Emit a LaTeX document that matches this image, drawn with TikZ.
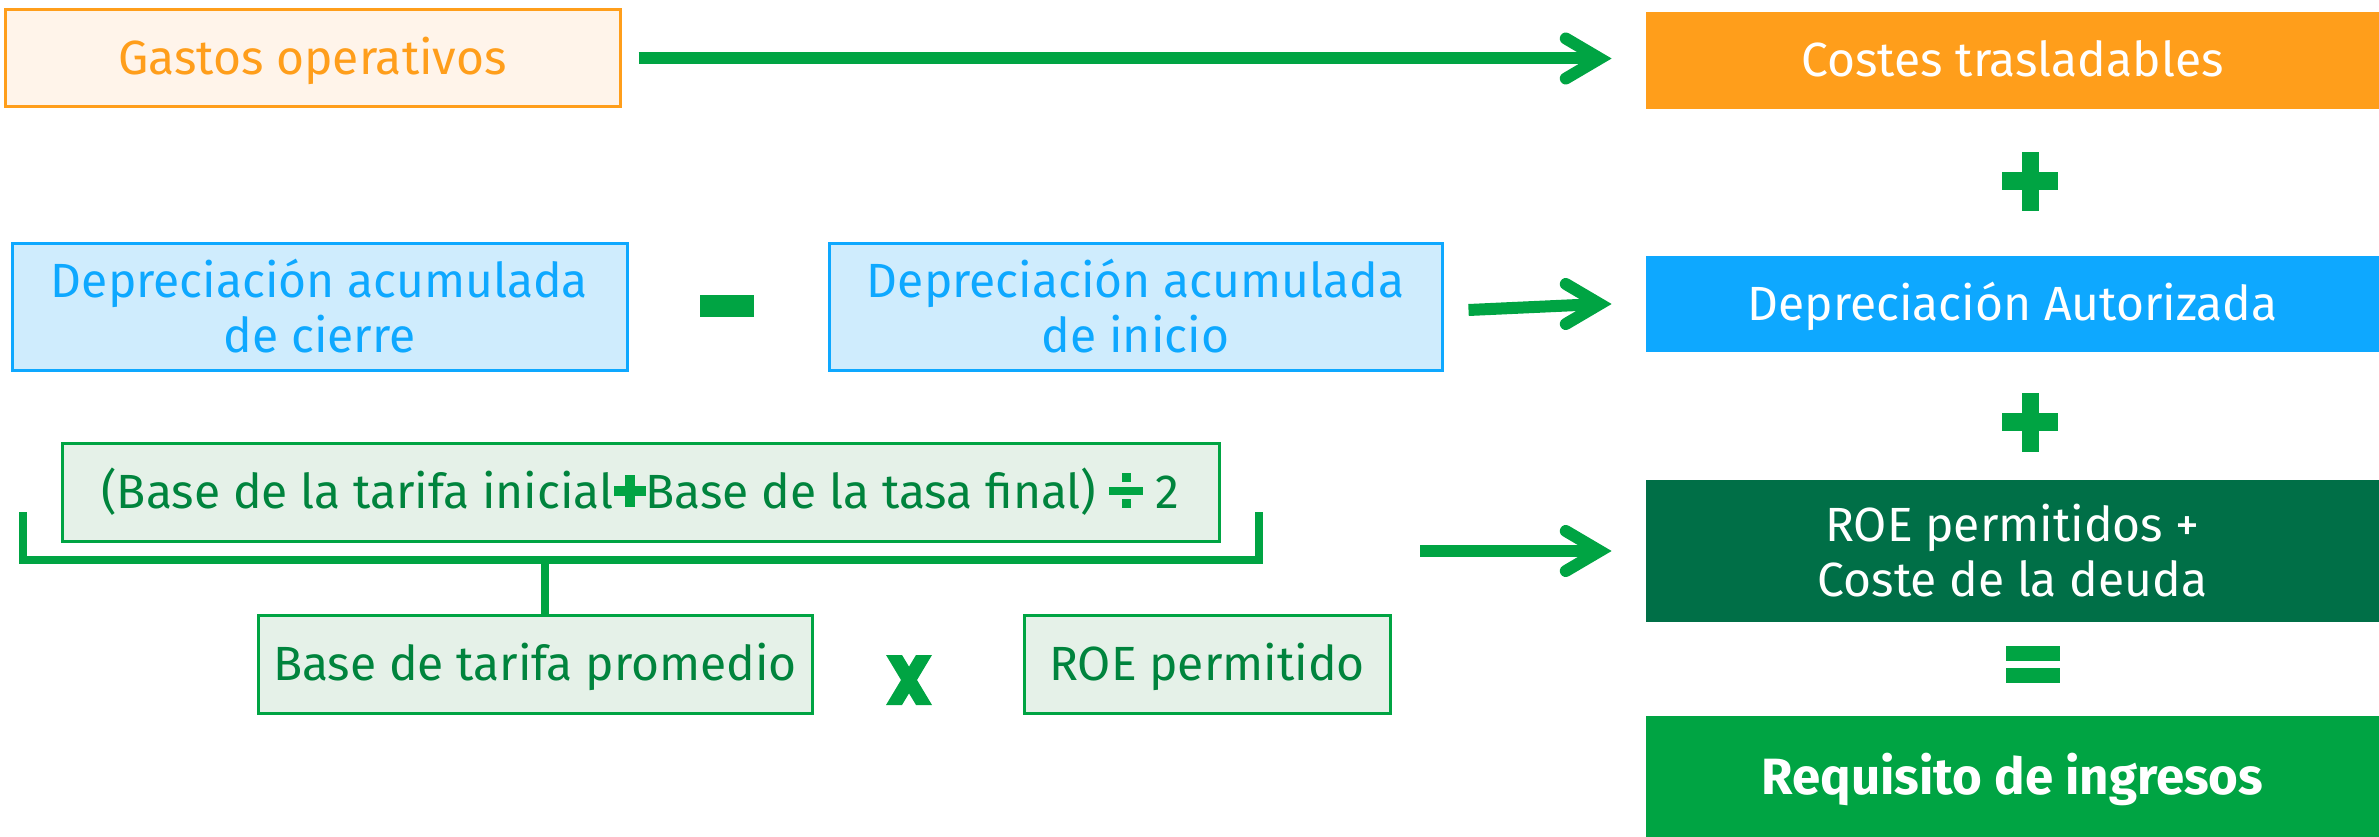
\documentclass[tikz,border=0pt]{standalone}
\usepackage{fontspec}
\setmainfont{Fira Sans}
\usetikzlibrary{calc}
\definecolor{corange}{HTML}{FF9E1B}
\definecolor{corangel}{HTML}{FFF4EA}
\definecolor{cblue}{HTML}{0EA8FF}
\definecolor{cbluel}{HTML}{CFECFD}
\definecolor{cgreen}{HTML}{00A443}
\definecolor{cgreend}{HTML}{006F47}
\definecolor{cgreent}{HTML}{00843D}
\definecolor{cgreenl}{HTML}{E5F1E8}
\newcommand\gplus{{\color{cgreen}\rlap{\rule[12.5pt]{32pt}{10pt}}\hspace{11pt}\rule[1.5pt]{10pt}{32pt}\hspace{11pt}}}
\newcommand\gdiv{{\color{cgreen}\rlap{\rule[14pt]{34pt}{8pt}}\rlap{\hspace{12.5pt}\rule[27pt]{9pt}{9pt}}\hspace{12.5pt}\rule[1pt]{9pt}{9pt}\hspace{12.5pt}}}
\begin{document}
\begin{tikzpicture}[x=1pt,y=-1pt,
  txt/.style={font=\fontsize{48}{55}\selectfont, align=center, inner sep=0pt},
  single/.style={text height=33pt, text depth=0pt},
  box/.style={txt, rectangle, line width=3pt},
  obox/.style={box, draw=corange, fill=corangel, text=corange},
  bbox/.style={box, draw=cblue, fill=cbluel, text=cblue},
  gbox/.style={box, draw=cgreen, fill=cgreenl, text=cgreent},
  solid/.style={txt, rectangle, text=white},
  conn/.style={draw=cgreen, line width=12pt},
  barb/.style={draw=cgreen, line width=12pt, line cap=round, line join=miter},
  brk/.style={draw=cgreen, line width=8pt},
  op/.style={fill=cgreen}
]
\useasboundingbox (0,0) rectangle (2379,837);

% right column
\node[solid, single, fill=corange, minimum width=733pt, minimum height=97pt] (costes) at (2012.5,60.5) {Costes trasladables};
\node[solid, single, fill=cblue, minimum width=733pt, minimum height=96pt] (depa) at (2012.5,304) {Depreciación Autorizada};
\node[solid, fill=cgreend, minimum width=733pt, minimum height=142pt] (roe) at (2012.5,551) {ROE permitidos +\\Coste de la deuda};
\node[solid, fill=cgreen, minimum width=733pt, minimum height=121pt, font=\fontsize{51}{58}\selectfont\bfseries, text height=35pt, text depth=0pt] (req) at (2012.5,776.5) {Requisito de ingresos};

% operators right column
\fill[op] (2002,172) rectangle (2058,190);
\fill[op] (2022,152) rectangle (2039,211);
\fill[op] (2002,413) rectangle (2058,431);
\fill[op] (2022,393) rectangle (2039,452);
\fill[op] (2006,646) rectangle (2060,661);
\fill[op] (2006,668) rectangle (2060,683);

% left side
\node[obox, single, minimum width=615pt, minimum height=97pt] (gastos) at (312.5,58.5) {Gastos operativos};
\node[bbox, minimum width=615pt, minimum height=127pt] (depc) at (319.5,306.5) {Depreciación acumulada\\de cierre};
\node[bbox, minimum width=613pt, minimum height=127pt] (depi) at (1135.5,306.5) {Depreciación acumulada\\de inicio};
\fill[op] (700,295) rectangle (754,317);

\node[gbox, single, minimum width=1157pt, minimum height=98pt] (form) at (640.5,492) {(Base de la tarifa inicial\gplus Base de la tasa final) \gdiv\ 2};
\draw[brk] (23,512) -- (23,560) -- (1259,560) -- (1259,512);
\node[gbox, single, minimum width=554pt, minimum height=98pt] (avg) at (535,664) {Base de tarifa promedio};
\node[gbox, single, minimum width=366pt, minimum height=98pt] (roep) at (1207,664) {ROE permitido};
\draw[brk] (545,560) -- (avg.north -| 545,0);
\fill[op] (886,655) -- (902,655) -- (932,705) -- (916,705) -- cycle;
\fill[op] (916,655) -- (932,655) -- (902,705) -- (886,705) -- cycle;

% arrows
\coordinate (t1) at ([xshift=-46pt]gastos.east -| costes.west);
\draw[conn] ([xshift=17pt]gastos.east) -- (t1);
\draw[barb] ($(t1)+(-34,-20)$) -- (t1) -- ($(t1)+(-34,20)$);

\coordinate (t2) at ([xshift=-46pt]depa.west);
\draw[conn] ([xshift=25pt,yshift=-3.5pt]depi.east) -- (t2);
\draw[barb] ($(t2)+(-34,-20)$) -- (t2) -- ($(t2)+(-34,20)$);

\coordinate (s3) at (1420,551);
\coordinate (t3) at ([xshift=-46pt]roe.west);
\draw[conn] (s3) -- (t3);
\draw[barb] ($(t3)+(-34,-20)$) -- (t3) -- ($(t3)+(-34,20)$);
\end{tikzpicture}
\end{document}
